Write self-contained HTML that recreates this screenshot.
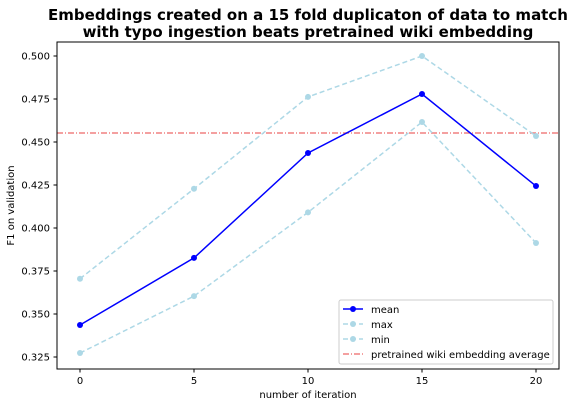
<!DOCTYPE html>
<html><head><meta charset="utf-8"><style>
body{margin:0;background:#fff;font-family:"Liberation Sans","DejaVu Sans",sans-serif;}
svg text{font-family:"DejaVu Sans","Liberation Sans",sans-serif;}
</style></head><body>
<svg id="chart" width="574" height="406" xmlns="http://www.w3.org/2000/svg">
<text x="308" y="20" text-anchor="middle" font-size="15" font-weight="bold">Embeddings created on a 15 fold duplicaton of data to match</text>
<text x="308" y="37" text-anchor="middle" font-size="15" font-weight="bold">with typo ingestion beats pretrained wiki embedding</text>
<g id="plot"></g>
<rect x="57" y="42" width="502" height="327" fill="none" stroke="#000" stroke-width="1"/>
<text x="308" y="398" text-anchor="middle" font-size="10">number of iteration</text>
<text transform="translate(14,205.5) rotate(-90)" text-anchor="middle" font-size="10">F1 on validation</text>
<g>
<rect x="339" y="300" width="214" height="64" fill="#fff" stroke="#ccc" rx="2"/>
<line x1="343" y1="309" x2="363" y2="309" stroke="#0000ff" stroke-width="1.5"/><circle cx="353" cy="309" r="3" fill="#0000ff"/>
<text x="371" y="313" font-size="10">mean</text>
<line x1="343" y1="324" x2="363" y2="324" stroke="#add8e6" stroke-width="1.5" stroke-dasharray="5,3"/><circle cx="353" cy="324" r="3" fill="#add8e6"/>
<text x="371" y="328" font-size="10">max</text>
<line x1="343" y1="339" x2="363" y2="339" stroke="#add8e6" stroke-width="1.5" stroke-dasharray="5,3"/><circle cx="353" cy="339" r="3" fill="#add8e6"/>
<text x="371" y="343" font-size="10">min</text>
<line x1="343" y1="354" x2="363" y2="354" stroke="#f08080" stroke-width="1.5" stroke-dasharray="6,2,1,2"/>
<text x="371" y="358" font-size="10">pretrained wiki embedding average</text>
</g>
</svg>
<script>
const iterations=[0,5,10,15,20];
const meanVals=[0.3436,0.3826,0.4436,0.4779,0.4244];
const maxVals=[0.3705,0.4228,0.4762,0.5,0.4535];
const minVals=[0.3273,0.3604,0.4091,0.4616,0.3913];
const baseline=0.4552;
const xTicks=[0,5,10,15,20];
const yTicks=[0.325,0.35,0.375,0.4,0.425,0.45,0.475,0.5];
const X=v=>80+(v/5)*114;
const Y=v=>357-(v-0.325)/0.025*43;
const NS="http://www.w3.org/2000/svg";
const g=document.getElementById('plot');
function mk(t,a){const e=document.createElementNS(NS,t);for(const k in a)e.setAttribute(k,a[k]);g.appendChild(e);return e;}
xTicks.forEach(t=>{
const l=mk('line',{x1:X(t),x2:X(t),y1:369,y2:372.5,stroke:'#000'});


const tx=mk('text',{x:X(t),y:384,'text-anchor':'middle','font-size':10});tx.textContent=t;


});
yTicks.forEach(t=>{
const l=mk('line',{x1:53.5,x2:57,y1:Y(t),y2:Y(t),stroke:'#000'});


const tx=mk('text',{x:50,y:Y(t)+3.5,'text-anchor':'end','font-size':10});tx.textContent=t.toFixed(3);


});
const bl=mk('line',{x1:57,x2:559,y1:Y(baseline),y2:Y(baseline),stroke:'#f08080','stroke-width':1.5,'stroke-dasharray':'6,2,1,2'});


function series(vals,color,dash,name){
const p=mk('polyline',{points:iterations.map((x,i)=>X(x)+','+Y(vals[i])).join(' '),fill:'none',stroke:color,'stroke-width':1.5});
if(dash)p.setAttribute('stroke-dasharray',dash);


iterations.forEach((x,i)=>{
const c=mk('circle',{cx:X(x),cy:Y(vals[i]),r:3,fill:color});


});
}
series(maxVals,'#add8e6','5,3','max');
series(minVals,'#add8e6','5,3','min');
series(meanVals,'#0000ff',null,'mean');
</script>
</body></html>
